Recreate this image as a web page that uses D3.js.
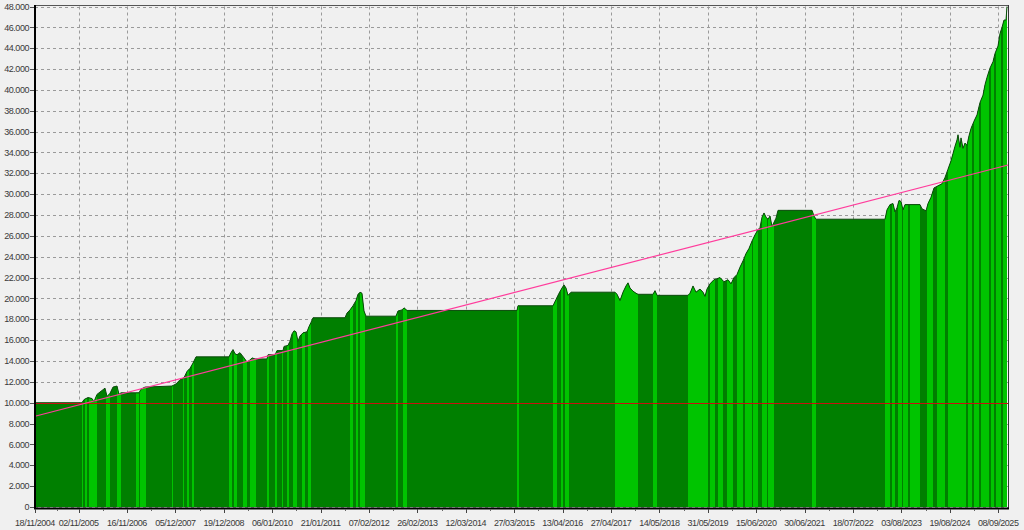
<!DOCTYPE html>
<html><head><meta charset="utf-8">
<script src="https://cdn.jsdelivr.net/npm/d3@7"></script>
<style>
html,body{margin:0;padding:0;background:#f0f0f0;}
svg{display:block;}
text{font-family:"Liberation Sans",Arial,sans-serif;font-size:9px;fill:#3a3a3a;letter-spacing:-0.45px;}
</style></head><body>
<svg id="c" width="1024" height="530"></svg>
<script>
// ---- data ----
const tickLabels = ["18/11/2004","02/11/2005","16/11/2006","05/12/2007","19/12/2008","06/01/2010","21/01/2011","07/02/2012","26/02/2013","12/03/2014","27/03/2015","13/04/2016","27/04/2017","14/05/2018","31/05/2019","15/06/2020","30/06/2021","18/07/2022","03/08/2023","19/08/2024","08/09/2025"];
const tickBars = [0,218,460,702,944,1186,1428,1670,1912,2154,2396,2638,2880,3122,3364,3606,3848,4090,4332,4574,4816];
const totalBars = 4865;
const yTickValues = [0,2000,4000,6000,8000,10000,12000,14000,16000,18000,20000,22000,24000,26000,28000,30000,32000,34000,36000,38000,40000,42000,44000,46000,48000];

const equityBars = [0,235,245,265,285,295,310,330,350,360,375,390,410,420,430,520,530,550,685,705,725,745,760,775,790,805,970,980,990,1000,1010,1025,1045,1060,1075,1085,1100,1160,1165,1200,1210,1240,1245,1265,1275,1285,1295,1305,1315,1325,1340,1360,1370,1380,1390,1550,1560,1575,1590,1605,1615,1625,1635,1645,1655,1805,1815,1835,1845,1860,2410,2415,2590,2605,2620,2635,2645,2655,2665,2680,2900,2910,2925,2940,2955,2965,2975,2990,3005,3015,3090,3100,3110,3265,3275,3290,3305,3325,3340,3350,3360,3375,3395,3410,3425,3445,3465,3480,3495,3510,3525,3540,3555,3570,3585,3600,3615,3625,3635,3645,3655,3665,3675,3685,3695,3705,3715,3885,3895,3905,4250,4260,4275,4290,4300,4310,4320,4330,4340,4350,4425,4435,4455,4465,4480,4495,4515,4535,4550,4565,4580,4590,4600,4610,4615,4625,4630,4640,4650,4660,4670,4680,4695,4710,4725,4740,4750,4760,4775,4790,4800,4815,4825,4835,4845,4855,4860];
const equityValues = [10000,10000,10300,10500,10400,10100,10800,11100,11400,10600,10900,11500,11600,10800,10950,10950,11300,11500,11600,11800,12200,12400,13000,13300,13800,14400,14400,14800,15100,14700,14600,14800,14300,13900,14100,14300,14200,14200,14600,14600,15000,15000,15400,15500,15900,16600,16900,16800,15900,16400,16700,16800,17300,17700,18150,18150,18600,18900,19300,19800,20400,20600,20500,18800,18300,18300,18800,18900,19100,18850,18850,19300,19300,19900,20500,21000,21300,21000,20300,20600,20600,20400,19800,20600,21200,21500,21000,20700,20500,20400,20400,20750,20300,20300,20500,21200,20600,20900,20600,20200,20900,21400,21800,21900,22000,21600,21800,21400,22000,22300,23000,23600,24300,24800,25500,26100,26600,26800,27800,28200,27800,27600,27900,26900,27300,27700,28450,28450,27900,27600,27600,28500,29000,29100,28300,28700,29400,29300,28500,29000,29000,28600,28400,29100,29700,30600,30800,31000,31600,32400,33200,33900,34600,35200,35700,34500,35400,34400,34900,34700,35600,36300,37000,37600,38800,39500,40500,41200,42100,42700,43500,44200,45400,46000,46700,46700,48000];

const tradeStarts = [235,250,270,355,410,505,525,685,740,760,785,970,995,1040,1075,1160,1200,1235,1260,1290,1335,1365,1575,1605,1625,1805,1840,2410,2590,2630,2650,2900,3090,3265,3375,3415,3460,3510,3550,3590,3635,3665,3885,4250,4285,4315,4340,4375,4460,4510,4565,4665,4695,4730,4780,4805,4840];
const tradeEnds   = [240,260,310,375,430,520,555,690,745,770,795,985,1010,1060,1105,1170,1210,1240,1270,1310,1350,1380,1590,1615,1650,1815,1860,2420,2610,2640,2670,3015,3110,3365,3400,3440,3490,3540,3585,3615,3660,3695,3905,4275,4300,4335,4365,4425,4490,4550,4655,4685,4720,4770,4795,4830,4860];

const initialBalance = 10000;
const regressionStart = 8700;
const regressionEnd = 32800;

// ---- drawing ----
const svg = d3.select("#c");
const x = d3.scaleLinear().domain([0, totalBars]).range([35, 1008]);
const y = d3.scaleLinear().domain([0, 48000]).range([507, 6.5]);
const equity = equityBars.map((b, i) => ({b, v: equityValues[i]}));
const trades = tradeStarts.map((s, i) => ({s, e: tradeEnds[i]}));

// grid
svg.append("g").selectAll("line").data(yTickValues).join("line")
  .attr("x1", x(0)).attr("x2", x(totalBars))
  .attr("y1", d => Math.round(y(d)) + 0.5).attr("y2", d => Math.round(y(d)) + 0.5)
  .attr("stroke", "#9a9a9a").attr("stroke-dasharray", "3,3");
svg.append("g").selectAll("line").data(tickBars.slice(1)).join("line")
  .attr("x1", d => Math.round(x(d)) + 0.5).attr("x2", d => Math.round(x(d)) + 0.5)
  .attr("y1", y(48000)).attr("y2", y(0))
  .attr("stroke", "#9a9a9a").attr("stroke-dasharray", "3,3");

// equity area
const area = d3.area().x(d => x(d.b)).y0(y(0)).y1(d => y(d.v));
svg.append("clipPath").attr("id", "eqclip").append("path").attr("d", area(equity));
svg.append("path").attr("d", area(equity)).attr("fill", "#007f00");
svg.append("g").attr("clip-path", "url(#eqclip)").selectAll("rect").data(trades).join("rect")
  .attr("x", d => x(d.s)).attr("width", d => Math.max(1, x(d.e) - x(d.s)))
  .attr("y", y(48000)).attr("height", y(0) - y(48000))
  .attr("fill", "#00c400");
svg.append("path").attr("d", d3.line().x(d => x(d.b)).y(d => y(d.v))(equity))
  .attr("fill", "none").attr("stroke", "#0b4a0b").attr("stroke-width", 1);

// initial balance line
svg.append("line").attr("x1", x(0)).attr("x2", x(totalBars))
  .attr("y1", Math.round(y(initialBalance)) + 0.5).attr("y2", Math.round(y(initialBalance)) + 0.5)
  .attr("stroke", "#c81010").attr("stroke-width", 1);
// regression line
svg.append("line").attr("x1", x(0)).attr("x2", x(totalBars))
  .attr("y1", y(regressionStart)).attr("y2", y(regressionEnd))
  .attr("stroke", "#ff3c9c").attr("stroke-width", 1.2);

// frame
svg.append("line").attr("x1", x(0)).attr("x2", x(totalBars)).attr("y1", 5.5).attr("y2", 5.5).attr("stroke", "#555");
svg.append("line").attr("x1", x(totalBars) + 0.5).attr("x2", x(totalBars) + 0.5).attr("y1", 5).attr("y2", 509).attr("stroke", "#333");
svg.append("line").attr("x1", 35).attr("x2", 35).attr("y1", 5).attr("y2", 509).attr("stroke", "#000").attr("stroke-width", 2);
svg.append("line").attr("x1", 34).attr("x2", x(totalBars) + 1).attr("y1", 508.5).attr("y2", 508.5).attr("stroke", "#000").attr("stroke-width", 2);

// y axis
const yg = svg.append("g");
yg.selectAll("line").data(yTickValues).join("line")
  .attr("x1", 30).attr("x2", 34).attr("y1", d => Math.round(y(d)) + 0.5).attr("y2", d => Math.round(y(d)) + 0.5)
  .attr("stroke", "#555");
const fmt = d3.formatLocale({decimal: ",", thousands: ".", grouping: [3], currency: ["", ""]}).format(",d");
yg.selectAll("text").data(yTickValues).join("text")
  .attr("x", 29).attr("y", d => y(d)).attr("dy", "0.35em").attr("text-anchor", "end")
  .text(d => fmt(d));

// x axis
const xg = svg.append("g");
xg.selectAll("line.maj").data(tickBars).join("line").attr("class", "maj")
  .attr("x1", d => Math.round(x(d)) + 0.5).attr("x2", d => Math.round(x(d)) + 0.5)
  .attr("y1", 509).attr("y2", 513).attr("stroke", "#444");
const minorBars = tickBars.slice(1).map((b, i) => (b + tickBars[i]) / 2);
xg.selectAll("line.min").data(minorBars).join("line").attr("class", "min")
  .attr("x1", d => Math.round(x(d)) + 0.5).attr("x2", d => Math.round(x(d)) + 0.5)
  .attr("y1", 509).attr("y2", 511).attr("stroke", "#666");
xg.selectAll("text").data(tickBars).join("text")
  .attr("x", d => x(d)).attr("y", 526).attr("text-anchor", "middle")
  .text((d, i) => tickLabels[i]);
</script>
</body></html>
